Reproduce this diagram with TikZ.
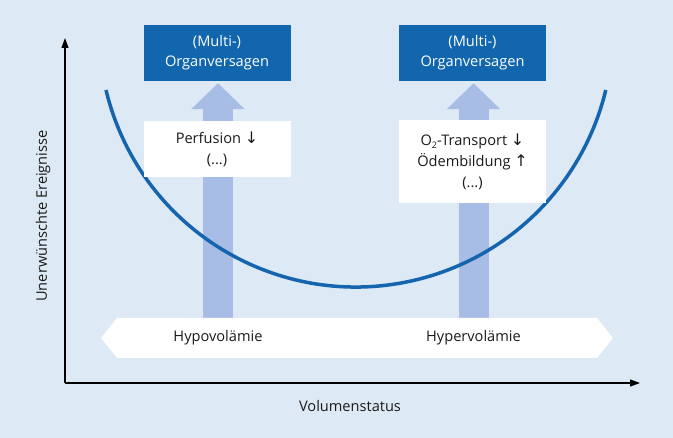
\documentclass[tikz,border=0pt]{standalone}
\usepackage{fontspec}
\setmainfont{Open Sans}
\newfontfamily\symfont{DejaVu Sans}
\usetikzlibrary{arrows.meta,calc}
\definecolor{bgc}{RGB}{221,233,244}
\definecolor{darkb}{RGB}{17,102,174}
\definecolor{lightar}{RGB}{168,189,230}
\definecolor{curvec}{RGB}{21,101,174}
\definecolor{txt}{RGB}{26,26,26}
\tikzset{
  organ/.style={fill=darkb, text=white, minimum width=147pt, minimum height=56pt, align=center, inner sep=0pt, font=\fontsize{14.6}{20}\selectfont},
  effect/.style={fill=white, text=txt, minimum width=147pt, align=center, inner sep=0pt, font=\fontsize{14.6}{21}\selectfont},
  fat/.style={lightar, line width=30pt, -{Triangle[width=52pt,length=26pt]}, shorten >=2pt},
  lbl/.style={text=txt, font=\fontsize{14.6}{17}\selectfont},
  axis/.style={line width=1.2pt, black, -{Triangle[width=7pt,length=10pt]}},
}
\newcommand{\dn}{{\symfont\fontsize{16}{16}\selectfont\char"2193}}
\newcommand{\upa}{{\symfont\fontsize{16}{16}\selectfont\char"2191}}
\newcommand{\sub}[1]{\raisebox{-3pt}{\fontsize{9}{9}\selectfont #1}}
\begin{document}
\begin{tikzpicture}[x=1pt,y=-1pt]
\fill[bgc] (0,0) rectangle (673,438);
\useasboundingbox (0,0) rectangle (673,438);
% axes
\coordinate (O) at (65,383);
\coordinate (ytip) at (65,38);
\coordinate (xtip) at (640,383);
\draw[axis] (O) -- (ytip);
\draw[axis] (O) -- (xtip);
\node[lbl, rotate=90] (ylab) at (43,216) {Unerwünschte Ereignisse};
\node[lbl] (xlab) at (350,406) {Volumenstatus};
% band coordinates
\coordinate (bandL) at (101,338);
\coordinate (bandTL) at (117,318);
\coordinate (bandTR) at (597,318);
\coordinate (bandR) at (613,338);
\coordinate (bandBR) at (597,358);
\coordinate (bandBL) at (117,358);
% organ boxes
\node[organ] (org1) at (217,53) {(Multi-)\\Organversagen};
\node[organ] (org2) at (472.5,53) {(Multi-)\\Organversagen};
% band labels (positions)
\coordinate (hypoC) at (218,338);
\coordinate (hyperC) at (473.5,338);
% fat arrows
\draw[fat] (hypoC) -- (org1.south -| hypoC);
\draw[fat] (hyperC) -- (org2.south -| hyperC);
% curve
\draw[curvec, line width=3.5pt] (106,90) arc[start angle=166.5, end angle=13.5, radius=257];
% effect boxes
\node[effect, minimum height=56pt] (eff1) at (217,149) {Perfusion \dn\\(...)};
\node[effect, minimum height=83pt] (eff2) at (472.5,161.5) {O\sub{2}-Transport \dn\\Ödembildung \upa\\(...)};
% band
\fill[white] (bandL) -- (bandTL) -- (bandTR) -- (bandR) -- (bandBR) -- (bandBL) -- cycle;
\node[lbl] (hypo) at (hypoC) {Hypovolämie};
\node[lbl] (hyper) at (hyperC) {Hypervolämie};
\end{tikzpicture}
\end{document}
